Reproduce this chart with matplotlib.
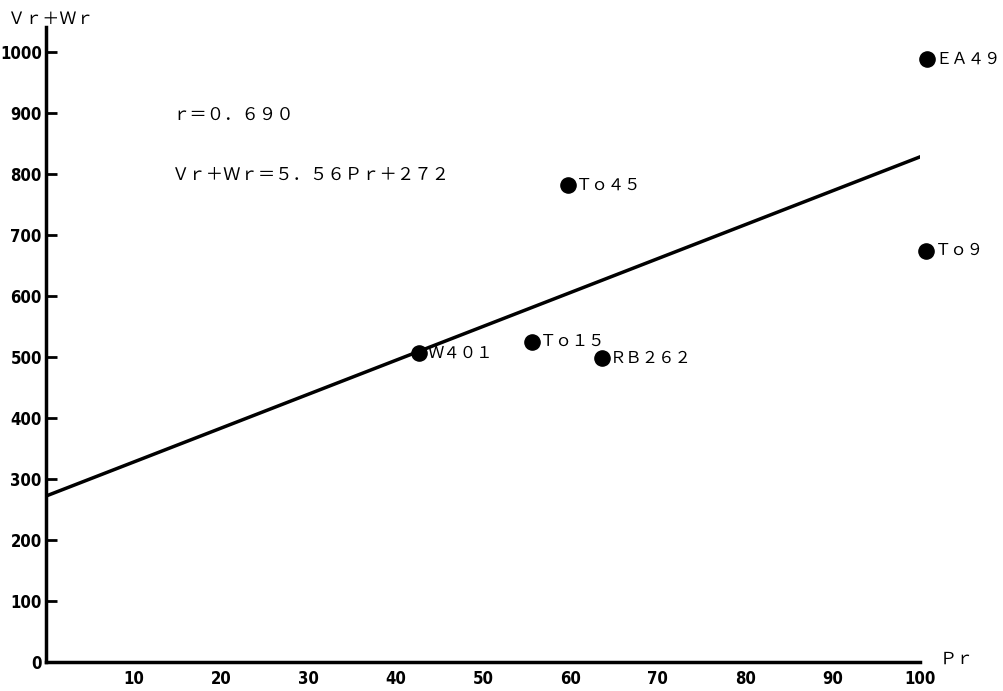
import matplotlib
matplotlib.use("Agg")
import matplotlib.pyplot as plt
import numpy as np

# Data
labels = ["ＥＡ４９", "Ｔｏ９", "Ｔｏ４５", "Ｔｏ１５", "ＲＢ２６２", "Ｗ４０１"]
pr = [100.8, 100.7, 59.7, 55.6, 63.6, 42.7]
vrwr = [988, 674, 782, 525, 498, 507]
slope = 5.56
intercept = 272
xticks = [10, 20, 30, 40, 50, 60, 70, 80, 90, 100]
yticks = [0, 100, 200, 300, 400, 500, 600, 700, 800, 900, 1000]

tick_font = ["DejaVu Sans"]
txt_font = ["Noto Sans CJK JP", "DejaVu Sans"]

fig = plt.figure(figsize=(10.04, 6.91), dpi=100)
ax = fig.add_axes([0.0458, 0.042, 0.8705, 0.919])
ax.set_xlim(0, 100)
ax.set_ylim(0, 1041)

for s in ["top", "right"]:
    ax.spines[s].set_visible(False)
ax.spines["left"].set_linewidth(2.5)
ax.spines["bottom"].set_linewidth(2.5)

# regression line
xl = np.array([0, 100])
ax.plot(xl, slope * xl + intercept, color="black", lw=2.5, zorder=2)

# points
ax.scatter(pr, vrwr, s=120, color="black", zorder=3, clip_on=False)
for x, y, lab in zip(pr, vrwr, labels):
    ax.annotate(lab, (x, y), xytext=(6, 0), textcoords="offset points",
                va="center", ha="left", fontsize=11.8, family=txt_font,
                annotation_clip=False)

ax.set_xticks(xticks)
ax.set_xticklabels([str(t) for t in xticks], family=tick_font, fontsize=12,
                   fontweight="bold", fontstretch="condensed")
ax.tick_params(axis="x", length=0, pad=6)
ax.set_xticks([100], minor=True)
ax.tick_params(axis="x", which="minor", direction="in", length=8, width=2)

ax.set_yticks(yticks)
ax.set_yticklabels([str(t) for t in yticks], family=tick_font, fontsize=12,
                   fontweight="bold", fontstretch="condensed")
ax.tick_params(axis="y", direction="in", length=8, width=2, pad=3)

ax.text(14.4, 897, "ｒ＝０．６９０", fontsize=12.5, family=txt_font, va="center", ha="left")
ax.text(14.4, 798, "Ｖｒ＋Ｗｒ＝５．５６Ｐｒ＋２７２", fontsize=12.5, family=txt_font,
        va="center", ha="left")

fig.text(0.008, 0.973, "Ｖｒ＋Ｗｒ", fontsize=12.3, family=txt_font, va="center", ha="left")
fig.text(0.936, 0.046, "Ｐｒ", fontsize=12.3, family=txt_font, va="center", ha="left")

fig.savefig("out.png", dpi=100)
